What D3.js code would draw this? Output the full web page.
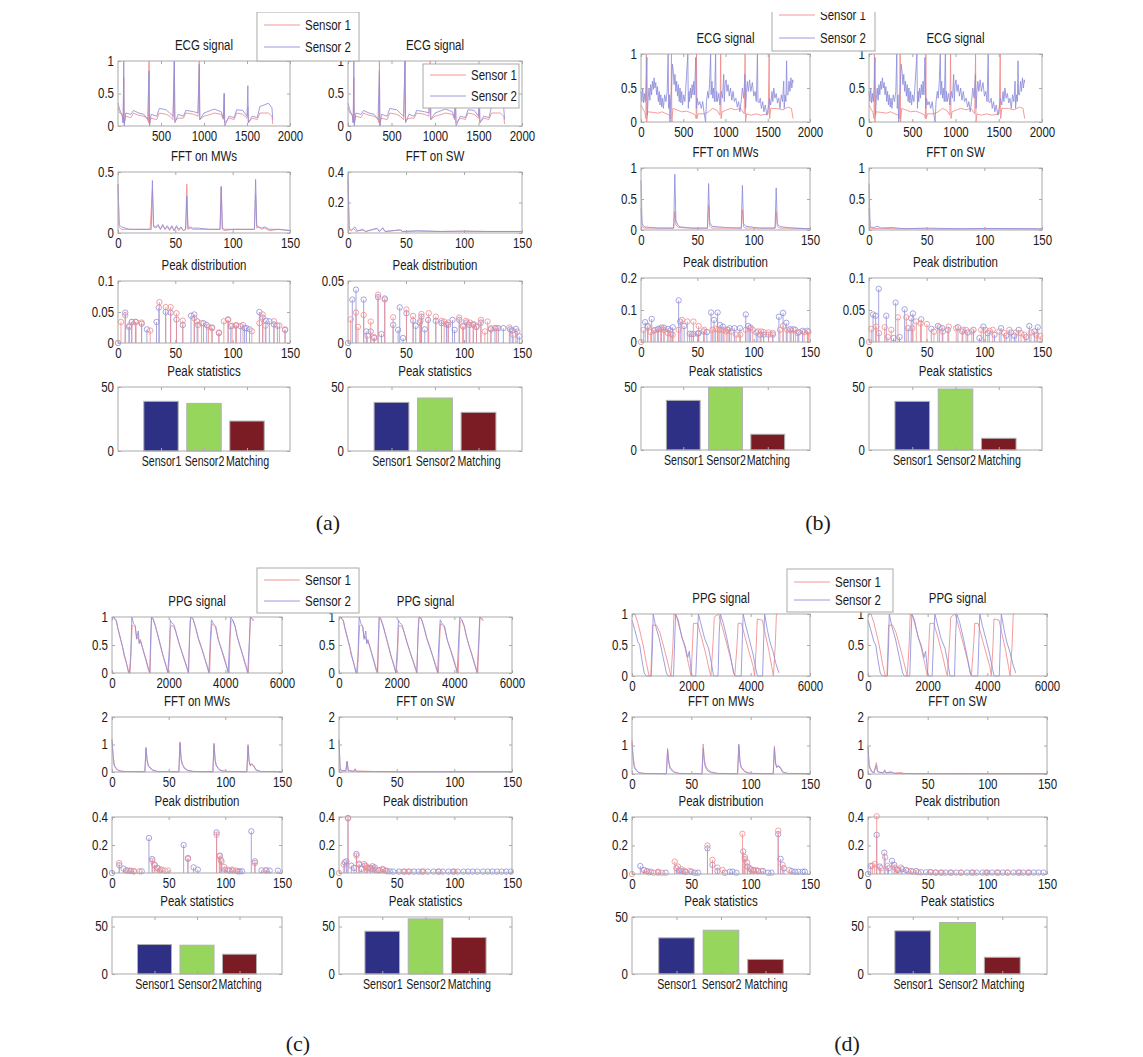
<!DOCTYPE html>
<html>
<head>
<meta charset="utf-8">
<script src="https://cdn.jsdelivr.net/npm/d3@7"></script>
<style>
  body { margin: 0; background: #fff; }
  svg text { font-family: "Liberation Sans", Arial, Helvetica, sans-serif; }
</style>
</head>
<body>
<div id="chart"></div>
<script>
// ---------- data ----------
const barCats = ["Sensor1", "Sensor2", "Matching"];

// ECG signals (same signal shown in both columns of a panel)
const ecgA_s1 = [[0,0.28],[20,0.2],[50,0.18],[60,0.05],[67,0.75],[72,0.05],[90,0.15],[150,0.13],[180,0.2],[230,0.17],[300,0.15],[340,0.12],[355,0.05],[361,1.0],[366,0.0],[380,0.12],[450,0.1],[480,0.2],[560,0.18],[600,0.15],[640,0.1],[655,1.0],[660,0.08],[700,0.12],[760,0.12],[790,0.2],[880,0.18],[930,0.15],[945,1.0],[950,0.1],[1000,0.15],[1080,0.18],[1120,0.2],[1200,0.18],[1225,0.1],[1235,0.5],[1240,0.05],[1290,0.12],[1350,0.1],[1380,0.2],[1450,0.18],[1500,0.12],[1510,0.3],[1515,0.05],[1560,0.12],[1620,0.1],[1650,0.2],[1750,0.2],[1790,0.15],[1800,0.03]];
const ecgA_s2 = [[0,0.35],[20,0.25],[50,0.15],[60,0.05],[67,1.0],[72,0.0],[90,0.2],[150,0.18],[180,0.24],[240,0.2],[300,0.18],[345,0.1],[361,0.85],[366,0.0],[385,0.18],[450,0.15],[480,0.27],[560,0.25],[600,0.2],[640,0.15],[655,1.0],[662,0.05],[700,0.18],[760,0.15],[790,0.24],[880,0.22],[930,0.2],[945,0.95],[952,0.1],[1000,0.2],[1080,0.24],[1120,0.26],[1200,0.22],[1225,0.12],[1235,0.5],[1242,0.0],[1290,0.15],[1350,0.13],[1380,0.25],[1450,0.24],[1500,0.15],[1510,0.62],[1516,0.05],[1560,0.15],[1620,0.13],[1650,0.3],[1750,0.35],[1790,0.28],[1800,0.1]];
const ecgB_s1 = [[0,0.25],[20,0.2],[45,0.14],[58,0.05],[63,1.0],[68,0.0],[80,0.15],[150,0.14],[200,0.13],[250,0.15],[300,0.12],[340,0.1],[355,0.05],[360,1.0],[365,0.0],[378,0.2],[420,0.18],[480,0.15],[540,0.16],[600,0.13],[645,0.1],[652,0.05],[657,1.0],[662,0.05],[675,0.12],[750,0.12],[800,0.15],[850,0.2],[900,0.17],[935,0.1],[943,1.0],[948,0.05],[960,0.15],[1000,0.17],[1060,0.2],[1120,0.18],[1180,0.2],[1222,0.12],[1232,1.0],[1237,0.0],[1250,0.12],[1300,0.1],[1360,0.12],[1420,0.1],[1505,0.12],[1517,1.0],[1522,0.05],[1535,0.2],[1600,0.2],[1680,0.18],[1740,0.22],[1780,0.2],[1800,0.05]];
const ecgB_s2 = [[0,0.45],[10,0.3],[20,0.5],[30,0.28],[40,0.42],[50,0.3],[60,0.5],[70,0.95],[75,0.1],[85,0.35],[95,0.5],[105,0.32],[115,0.55],[125,0.4],[135,0.6],[145,0.48],[155,0.65],[165,0.5],[175,0.58],[185,0.4],[195,0.52],[205,0.3],[215,0.45],[225,0.25],[235,0.4],[245,0.22],[255,0.35],[265,0.2],[280,0.4],[295,0.3],[310,0.45],[321,1.0],[327,0.2],[335,0.4],[343,0.0],[350,0.3],[362,0.5],[372,0.85],[382,0.75],[392,0.55],[402,0.7],[412,0.45],[422,0.6],[432,0.38],[442,0.55],[452,0.3],[462,0.5],[472,0.28],[482,0.45],[492,0.25],[505,0.4],[519,0.3],[530,0.5],[554,1.0],[560,0.2],[568,0.45],[575,0.3],[585,0.5],[595,0.35],[605,0.55],[615,0.4],[625,0.6],[635,0.4],[647,0.95],[655,0.2],[665,0.35],[680,0.25],[695,0.3],[714,0.2],[730,0.3],[745,0.15],[764,0.0],[775,0.3],[790,0.45],[800,0.35],[811,0.55],[824,1.0],[830,0.4],[840,0.6],[850,0.35],[858,0.5],[870,0.3],[883,1.0],[889,0.3],[896,0.45],[905,0.3],[920,0.42],[935,0.25],[950,0.45],[965,0.35],[979,0.7],[986,0.3],[995,0.55],[1006,0.62],[1018,0.45],[1030,0.55],[1045,0.38],[1060,0.5],[1075,0.32],[1090,0.45],[1105,0.3],[1123,0.35],[1140,0.22],[1155,0.3],[1170,0.15],[1185,0.3],[1200,0.5],[1215,0.35],[1230,0.7],[1238,0.2],[1248,0.45],[1259,0.6],[1270,0.45],[1285,0.62],[1300,0.45],[1318,0.58],[1335,0.38],[1350,0.45],[1365,0.3],[1378,1.0],[1384,0.3],[1396,0.28],[1412,0.35],[1425,0.2],[1440,0.3],[1454,0.15],[1470,0.25],[1490,0.1],[1505,0.2],[1520,0.35],[1535,0.25],[1550,0.45],[1560,0.3],[1571,0.5],[1585,0.35],[1600,0.42],[1615,0.28],[1630,0.35],[1645,0.2],[1660,0.4],[1675,0.3],[1689,0.6],[1695,0.2],[1705,0.4],[1715,0.3],[1723,0.9],[1729,0.4],[1740,0.4],[1752,0.6],[1763,0.45],[1774,0.65],[1785,0.5],[1795,0.62],[1800,0.58]];

// PPG signals
const ppgC_s1 = [[0,1],[60,0.98],[150,0.95],[200,0.8],[300,0.6],[380,0.45],[430,0.3],[500,0.2],[560,0.08],[594,0],[640,0],[690,0.6],[713,0.85],[760,0.85],[820,0.82],[870,0.6],[920,0.65],[960,0.55],[1000,0.6],[1050,0.5],[1120,0.38],[1200,0.25],[1280,0.1],[1343,0],[1370,0.5],[1395,1],[1450,0.97],[1530,0.85],[1600,0.7],[1700,0.5],[1800,0.3],[1900,0.15],[1985,0],[2030,0.3],[2060,0.8],[2090,0.85],[2180,0.83],[2250,0.75],[2350,0.55],[2450,0.4],[2550,0.25],[2650,0.1],[2698,0],[2730,0.5],[2760,0.95],[2800,1],[2870,0.95],[2950,0.8],[3050,0.6],[3150,0.45],[3250,0.3],[3350,0.15],[3446,0],[3480,0.5],[3520,0.88],[3570,0.86],[3650,0.82],[3750,0.6],[3850,0.45],[3950,0.3],[4050,0.12],[4135,0],[4170,0.6],[4200,0.92],[4260,0.95],[4340,0.85],[4400,0.7],[4500,0.5],[4600,0.35],[4700,0.18],[4780,0.05],[4812,0],[4850,0.5],[4890,1],[4960,0.97],[5000,0.95]];
const ppgC_s2 = [[0,0.98],[50,1],[150,0.93],[200,0.82],[300,0.62],[380,0.45],[450,0.3],[520,0.15],[580,0.02],[610,0],[660,0.3],[700,1],[760,0.88],[820,0.85],[870,0.62],[930,0.75],[960,0.52],[1000,0.58],[1060,0.48],[1130,0.35],[1210,0.2],[1290,0.05],[1330,0],[1370,0.7],[1395,1],[1460,0.95],[1540,0.82],[1620,0.68],[1720,0.48],[1820,0.28],[1920,0.1],[1970,0],[2030,0.5],[2060,0.95],[2100,0.9],[2190,0.86],[2260,0.72],[2360,0.55],[2460,0.38],[2560,0.22],[2660,0.06],[2700,0],[2740,0.7],[2780,1],[2850,0.98],[2950,0.82],[3050,0.62],[3150,0.47],[3250,0.3],[3350,0.12],[3420,0],[3470,0.6],[3510,0.95],[3580,0.88],[3660,0.84],[3760,0.58],[3860,0.42],[3960,0.25],[4060,0.08],[4100,0],[4160,0.7],[4190,1],[4270,0.93],[4350,0.82],[4420,0.65],[4520,0.48],[4620,0.3],[4720,0.12],[4790,0],[4850,0.6],[4880,1],[4950,0.96],[5000,0.93]];
const ppgD_s1 = [[0,1],[100,1],[204,0.85],[374,0.5],[487,0.2],[577,0],[634,0],[670,0.5],[690,0.82],[826,0.82],[940,0.7],[1053,0.5],[1189,0.25],[1313,0],[1380,0.5],[1415,1],[1506,0.95],[1675,0.65],[1789,0.45],[1902,0.2],[1992,0],[2040,0.5],[2072,0.85],[2207,0.85],[2355,0.6],[2490,0.35],[2604,0.1],[2660,0],[2740,0.6],[2773,0.95],[2920,1],[3068,0.75],[3204,0.5],[3340,0.25],[3464,0],[3540,0.5],[3577,0.85],[3690,0.85],[3826,0.6],[3939,0.4],[4087,0.15],[4132,0],[4190,0.5],[4222,0.92],[4392,0.9],[4505,0.65],[4619,0.4],[4709,0.15],[4766,0],[4830,0.5],[4868,1],[4902,1]];
const ppgD_s2 = [[0,0.9],[90,0.75],[200,0.55],[260,0.5],[320,0.3],[410,0.05],[480,0],[650,0],[690,0.5],[713,1],[800,0.8],[920,0.6],[1050,0.3],[1160,0.05],[1220,0],[1400,0],[1440,0.6],[1472,1],[1560,0.9],[1680,0.62],[1780,0.5],[1880,0.3],[1930,0.4],[1970,0.2],[2010,0],[2150,0],[2200,0.6],[2240,1],[2320,0.85],[2450,0.6],[2580,0.45],[2680,0.2],[2750,0],[2900,0],[2940,0.7],[2977,1],[3080,0.85],[3200,0.6],[3330,0.3],[3420,0.05],[3480,0],[3680,0],[3720,0.6],[3747,1],[3830,0.82],[3950,0.6],[4080,0.35],[4180,0.1],[4230,0],[4400,0],[4440,0.6],[4470,1],[4560,0.75],[4650,0.55],[4750,0.4],[4850,0.2],[4950,0.05]];

// FFT spectra
const fftMwA_s1 = [[0,0.4],[1,0.05],[3,0.03],[10,0.03],[20,0.03],[28,0.03],[30,0.35],[31,0.05],[33,0.04],[35,0.06],[37,0.03],[39,0.06],[41,0.03],[43,0.05],[45,0.02],[47,0.05],[49,0.02],[51,0.05],[53,0.02],[55,0.04],[57,0.02],[59,0.03],[60,0.4],[61,0.03],[63,0.04],[65,0.03],[70,0.03],[80,0.03],[89,0.03],[90,0.38],[91,0.03],[93,0.02],[100,0.03],[110,0.03],[119,0.03],[120,0.32],[121,0.04],[123,0.05],[125,0.03],[128,0.04],[132,0.02],[140,0.03],[150,0.02]];
const fftMwA_s2 = [[0,0.4],[1,0.07],[3,0.05],[10,0.03],[20,0.03],[29,0.03],[30,0.43],[31,0.06],[33,0.05],[35,0.07],[37,0.03],[39,0.07],[41,0.03],[43,0.06],[45,0.03],[47,0.06],[49,0.02],[51,0.06],[53,0.03],[55,0.05],[57,0.02],[59,0.03],[60,0.3],[61,0.04],[63,0.05],[65,0.04],[70,0.04],[80,0.03],[89,0.03],[90,0.38],[91,0.04],[93,0.03],[100,0.03],[110,0.03],[119,0.03],[120,0.44],[121,0.06],[123,0.05],[125,0.04],[128,0.05],[132,0.03],[140,0.03],[150,0.02]];
const fftSwA_s1 = [[0,0.35],[1,0.02],[3,0.015],[5,0.03],[7,0.01],[13,0.025],[15,0.01],[25,0.03],[27,0.01],[30,0.035],[32,0.01],[45,0.02],[47,0.01],[60,0.012],[80,0.01],[100,0.012],[120,0.01],[150,0.01]];
const fftSwA_s2 = [[0,0.38],[1,0.03],[3,0.02],[6,0.04],[8,0.015],[13,0.02],[15,0.01],[25,0.03],[27,0.01],[30,0.03],[32,0.01],[45,0.02],[47,0.01],[60,0.015],[80,0.01],[100,0.012],[120,0.01],[150,0.01]];
const fftMwB_s1 = [[0,0.35],[1,0.05],[3,0.03],[15,0.03],[29,0.03],[30,0.3],[31,0.08],[33,0.04],[45,0.03],[59,0.03],[60,0.4],[61,0.06],[63,0.03],[75,0.03],[89,0.03],[90,0.33],[91,0.05],[93,0.03],[105,0.03],[119,0.03],[120,0.3],[121,0.06],[123,0.03],[135,0.03],[150,0.02]];
const fftMwB_s2 = [[0,0.8],[1,0.1],[3,0.05],[15,0.03],[29,0.03],[30,0.9],[31,0.15],[33,0.07],[35,0.05],[45,0.03],[59,0.03],[60,0.75],[61,0.12],[63,0.06],[75,0.04],[89,0.03],[90,0.72],[91,0.1],[93,0.06],[105,0.03],[119,0.03],[120,0.68],[121,0.1],[123,0.06],[125,0.05],[135,0.03],[150,0.02]];
const fftSwB_s1 = [[0,0.35],[1,0.03],[5,0.02],[10,0.03],[20,0.02],[40,0.02],[70,0.015],[100,0.02],[150,0.015]];
const fftSwB_s2 = [[0,0.75],[1,0.05],[4,0.04],[8,0.06],[10,0.03],[20,0.04],[30,0.02],[50,0.03],[80,0.02],[100,0.025],[150,0.02]];
const fftMwC_s1 = [[0,1.2],[1,0.6],[2,0.25],[4,0.12],[6,0.05],[10,0.02],[29,0.01],[30,0.85],[31,0.45],[32,0.25],[34,0.15],[36,0.08],[40,0.02],[59,0.01],[60,1.1],[61,0.5],[62,0.3],[64,0.15],[67,0.06],[72,0.02],[89,0.01],[90,1.05],[91,0.45],[92,0.25],[95,0.08],[98,0.04],[102,0.02],[119,0.01],[120,1.0],[121,0.4],[122,0.25],[123,0.3],[125,0.25],[127,0.08],[131,0.02],[150,0.01]];
const fftMwC_s2 = [[0,1.15],[1,0.55],[2,0.22],[4,0.1],[6,0.04],[10,0.02],[29,0.01],[30,0.9],[31,0.4],[32,0.22],[34,0.12],[36,0.06],[40,0.02],[59,0.01],[60,1.05],[61,0.45],[62,0.28],[64,0.12],[67,0.05],[72,0.02],[89,0.01],[90,1.0],[91,0.42],[92,0.22],[95,0.07],[98,0.03],[102,0.02],[119,0.01],[120,0.95],[121,0.38],[122,0.22],[123,0.28],[125,0.22],[127,0.07],[131,0.02],[150,0.01]];
const fftSwC_s1 = [[0,1.2],[1,0.1],[3,0.05],[6,0.05],[7,0.4],[8,0.06],[13,0.03],[14,0.12],[15,0.03],[20,0.03],[30,0.02],[50,0.01],[150,0.01]];
const fftSwC_s2 = [[0,1.15],[1,0.08],[3,0.04],[6,0.04],[7,0.38],[8,0.05],[13,0.02],[14,0.1],[15,0.02],[20,0.02],[30,0.015],[50,0.01],[150,0.01]];
const fftMwD_s1 = [[0,1.2],[1,0.6],[2,0.28],[4,0.12],[6,0.05],[10,0.02],[29,0.01],[30,0.9],[31,0.45],[32,0.25],[34,0.14],[36,0.07],[40,0.02],[59,0.01],[60,1.05],[61,0.5],[62,0.3],[64,0.15],[67,0.07],[72,0.02],[89,0.01],[90,1.0],[91,0.45],[92,0.25],[95,0.1],[98,0.04],[102,0.02],[119,0.01],[120,0.98],[121,0.4],[122,0.25],[123,0.3],[125,0.25],[127,0.08],[131,0.02],[150,0.01]];
const fftMwD_s2 = [[0,1.1],[1,0.5],[2,0.22],[4,0.1],[6,0.04],[10,0.02],[29,0.01],[30,0.85],[31,0.4],[32,0.2],[34,0.1],[36,0.05],[40,0.02],[59,0.01],[60,0.9],[61,0.4],[62,0.22],[64,0.1],[67,0.05],[72,0.02],[89,0.01],[90,1.05],[91,0.42],[92,0.22],[95,0.08],[98,0.03],[102,0.02],[119,0.01],[120,0.9],[121,0.35],[122,0.22],[123,0.28],[125,0.2],[127,0.06],[131,0.02],[150,0.01]];
const fftSwD_s1 = [[0,1.0],[1,0.3],[3,0.1],[5,0.05],[7,0.4],[8,0.1],[10,0.05],[13,0.05],[14,0.15],[15,0.05],[20,0.08],[21,0.03],[28,0.05],[30,0.02],[50,0.01],[150,0.01]];
const fftSwD_s2 = [[0,0.95],[1,0.25],[3,0.08],[5,0.04],[7,0.3],[8,0.08],[13,0.04],[14,0.12],[15,0.04],[20,0.06],[22,0.02],[30,0.015],[150,0.01]];

// Peak distributions (stem plots)
const pkA_L_s1 = [[2.6,0.034],[6.3,0.045],[10,0.028],[12,0.034],[15.8,0.034],[20.6,0.033],[28.1,0.02],[36.1,0.066],[41.6,0.058],[45.9,0.058],[51,0.048],[56.5,0.036],[66.5,0.04],[69.7,0.029],[72.8,0.032],[78.9,0.026],[82,0.024],[88,0.017],[92.3,0.035],[96,0.037],[99.5,0.028],[103.3,0.029],[109,0.029],[116.7,0.019],[123.3,0.032],[126.2,0.046],[128.5,0.028],[136,0.035],[140.8,0.028],[145.7,0.022]];
const pkA_L_s2 = [[0,0],[6.3,0.049],[9.5,0.026],[12,0.034],[15.2,0.034],[20.6,0.031],[25.2,0.022],[33.6,0.034],[35.6,0.057],[41.6,0.05],[45.9,0.049],[51,0.038],[56.5,0.029],[63.7,0.044],[66.5,0.046],[69,0.035],[74.5,0.032],[77.4,0.029],[82,0.025],[88,0.016],[96,0.038],[98.4,0.027],[102.7,0.028],[107,0.027],[110.4,0.024],[112,0.024],[114.7,0.022],[123.3,0.05],[126.2,0.041],[129,0.036],[132,0.035],[136,0.03],[139,0.028],[145.7,0.021]];
const pkA_R_s1 = [[2.3,0.019],[6.9,0.0245],[8.6,0.013],[13.5,0.0226],[16.7,0.0059],[19.6,0.0173],[22.5,0.0048],[25.9,0.039],[31.7,0.035],[38.9,0.0207],[50.4,0.027],[56.1,0.0218],[62.5,0.018],[63.3,0.0234],[69.6,0.024],[75.7,0.0213],[80.6,0.0178],[82.9,0.0173],[86.4,0.0165],[95.9,0.0205],[98.8,0.0138],[101.7,0.0178],[105.1,0.0165],[108,0.0154],[110.8,0.0138],[114.6,0.0186],[118,0.0093],[120.4,0.0173],[123.2,0.0119],[128.1,0.012],[139.1,0.0125],[142.5,0.0066],[146,0.0093]];
const pkA_R_s2 = [[0,0],[3.7,0.035],[6.9,0.043],[13.5,0.035],[15.8,0.0093],[19.6,0.0093],[22.5,0.004],[25.9,0.037],[28.8,0.0072],[31.7,0.0359],[38.9,0.0146],[43.2,0.0106],[44.6,0.0287],[47.5,0.004],[50.4,0.024],[56.1,0.018],[58.4,0.0138],[61.9,0.0165],[63.3,0.0213],[66.2,0.011],[69,0.0186],[75.7,0.0178],[80.6,0.016],[84.9,0.015],[86.4,0.0146],[90.1,0.0186],[91.9,0.0106],[95.9,0.0186],[99.4,0.0133],[102.3,0.0165],[104.5,0.0146],[108,0.0146],[110.8,0.0128],[114.6,0.0165],[123.2,0.011],[126.7,0.012],[129.6,0.012],[133.9,0.012],[139.7,0.011],[141.6,0.0101],[144.8,0.0114],[147.7,0.0053]];
const pkB_L_s1 = [[0,0],[2.3,0.038],[6,0.046],[8.6,0.031],[12.6,0.038],[14.7,0.038],[17.5,0.04],[20.4,0.038],[23.9,0.028],[26.8,0.025],[28.2,0.023],[33.4,0.038],[36.3,0.069],[41.2,0.064],[44.9,0.025],[46.5,0.064],[51.2,0.05],[56.2,0.038],[63.4,0.038],[66.2,0.041],[68.6,0.038],[71.4,0.038],[73.7,0.038],[75.7,0.033],[80.1,0.033],[84.4,0.023],[88.1,0.023],[93,0.038],[96.4,0.043],[99.2,0.038],[103.7,0.033],[106.6,0.033],[108.8,0.031],[113.2,0.03],[117,0.028],[123.3,0.038],[126.1,0.05],[129.8,0.038],[133.3,0.036],[137,0.038],[139.1,0.028],[144.8,0.031],[148.6,0.031]];
const pkB_L_s2 = [[3.7,0.062],[6,0.05],[9.5,0.072],[11.5,0.036],[15.3,0.041],[18.1,0.045],[20.4,0.045],[23.9,0.041],[25.9,0.036],[28.2,0.046],[33.4,0.13],[34.8,0.064],[38.3,0.05],[43.2,0.026],[46.5,0.025],[50.4,0.026],[51.2,0.028],[55.6,0.033],[58.5,0.031],[62.2,0.092],[64.8,0.069],[68,0.092],[70,0.053],[72.8,0.048],[77.2,0.038],[78.6,0.043],[82.9,0.043],[87.8,0.043],[93,0.086],[95,0.05],[97.3,0.045],[102.3,0.03],[105.8,0.023],[108.8,0.023],[113.2,0.023],[117,0.023],[122.4,0.079],[126.1,0.091],[129,0.06],[132.4,0.04],[135.3,0.04],[140,0.031],[143.4,0.035],[147.7,0.035]];
const pkB_R_s1 = [[0,0],[2,0.0205],[6.3,0.024],[8.7,0.0138],[13.6,0.023],[16.4,0.0077],[19.3,0.019],[25.1,0.0385],[32.3,0.0385],[37.5,0.0215],[41,0.032],[44.7,0.029],[50.2,0.028],[56.3,0.016],[61.1,0.0231],[64.1,0.0164],[69.2,0.024],[75.6,0.0215],[81.4,0.019],[84.2,0.019],[89.1,0.0164],[97.3,0.019],[100.9,0.019],[104.4,0.0174],[107.3,0.019],[113,0.0164],[117.4,0.0138],[121.7,0.019],[127.4,0.0148],[131.8,0.0138],[134.7,0.0113],[140.5,0.0148],[145,0.0113],[148.4,0.0097]];
const pkB_R_s2 = [[3.5,0.043],[5.8,0.041],[8.4,0.083],[15,0.041],[21.3,0.0062],[23.1,0.0615],[26.5,0.0077],[30.9,0.051],[34,0.0215],[36.6,0.037],[38.1,0.0446],[45.3,0.0354],[54,0.0205],[59.7,0.025],[63.5,0.0215],[68.4,0.019],[77.1,0.0231],[80.8,0.0164],[85.6,0.0149],[90.6,0.019],[95.8,0.0062],[99.2,0.024],[103,0.0138],[108.8,0.0113],[114.5,0.0215],[118.9,0.01],[123.2,0.0149],[126,0.0097],[129.8,0.019],[136.2,0.0077],[139,0.025],[143.4,0.0164],[146.3,0.023]];
const pkC_L_s1 = [[6.4,0.071],[12.5,0.019],[16,0.017],[19.5,0.012],[24.2,0.012],[35.5,0.088],[37.9,0.055],[40.8,0.033],[42.2,0.019],[46.6,0.017],[49.5,0.017],[67,0.1],[92.3,0.274],[94.7,0.119],[96,0.095],[99,0.043],[102,0.024],[106,0.024],[109.5,0.017],[126.1,0.071],[135.4,0.019]];
const pkC_L_s2 = [[0,0],[6.4,0.055],[10.2,0.031],[13.6,0.017],[16.6,0.014],[19.2,0.012],[26.2,0.012],[32.6,0.25],[35.5,0.1],[37.3,0.06],[39.9,0.036],[43.7,0.024],[63.2,0.2],[67,0.107],[72,0.04],[75.7,0.024],[92.3,0.29],[95.2,0.124],[96.6,0.083],[99.6,0.024],[103.5,0.017],[106.6,0.017],[111,0.012],[112.6,0.012],[114.7,0.012],[122.9,0.298],[126.1,0.083],[131.9,0.019],[136.3,0.019],[139.1,0.017],[146.4,0.017]];
const pkC_R_s1 = [[0,0],[4.1,0.06],[7.8,0.39],[15.1,0.124],[17.4,0.067],[21.8,0.064],[23.8,0.048],[26.7,0.029],[29.6,0.029],[31.8,0.024],[34,0.019],[37.7,0.029],[41.7,0.012],[57,0.01],[60,0.01],[72,0.01],[87,0.01],[100,0.01]];
const pkC_R_s2 = [[4.9,0.076],[6.4,0.083],[7.8,0.393],[10.7,0.052],[13,0.036],[15.1,0.136],[17.4,0.06],[19.4,0.029],[22.4,0.052],[24.6,0.036],[27.3,0.036],[29,0.048],[31,0.04],[34.9,0.019],[38.3,0.024],[40.6,0.017],[44,0.012],[47,0.01],[52,0.01],[56,0.01],[61,0.01],[65,0.01],[69,0.01],[73,0.01],[77,0.01],[82,0.01],[86,0.01],[90,0.01],[95,0.01],[99,0.01],[103,0.01],[108,0.01],[112,0.01],[116,0.01],[120,0.01],[125,0.01],[129,0.01],[133,0.01],[137,0.01],[141,0.01],[145,0.01],[149,0.01]];
const pkD_L_s1 = [[0,0],[10.1,0.026],[14.2,0.012],[18.3,0.009],[22,0.009],[25.3,0.009],[36,0.087],[38.8,0.052],[41.7,0.033],[44.5,0.021],[48.7,0.021],[63.6,0.2],[67.8,0.099],[72,0.045],[76.3,0.028],[93.1,0.282],[95.1,0.118],[97.1,0.08],[99.3,0.04],[102,0.028],[104.8,0.028],[109,0.021],[123.2,0.304],[126.9,0.064],[132.5,0.028]];
const pkD_L_s2 = [[7,0.056],[10.1,0.028],[12.7,0.021],[15.8,0.016],[22,0.016],[28.4,0.009],[37.4,0.04],[40,0.024],[42.6,0.019],[45.3,0.014],[50.1,0.016],[52.9,0.009],[55.7,0.009],[63.6,0.18],[67.8,0.064],[72,0.021],[78.3,0.009],[82.4,0.016],[84.7,0.016],[88,0.009],[93.7,0.158],[95.1,0.104],[97.4,0.052],[100.1,0.033],[102.8,0.024],[106.2,0.021],[110.4,0.021],[114.7,0.009],[117.5,0.009],[123.2,0.28],[125.2,0.106],[128,0.04],[134.5,0.021],[137.3,0.016],[140.1,0.016],[143.8,0.016],[145.7,0.016]];
const pkD_R_s1 = [[3.7,0.059],[5.6,0.071],[7.3,0.405],[10.7,0.04],[14.4,0.118],[16.4,0.056],[22.6,0.045],[24,0.033],[27.7,0.045],[33.3,0.021],[37.6,0.016],[42,0.012],[52,0.014],[57,0.01],[62,0.01],[70,0.01],[78,0.01],[88,0.01],[99,0.01],[108,0.01],[117,0.01],[127,0.01],[134,0.01]];
const pkD_R_s2 = [[0,0],[2.3,0.056],[7.3,0.275],[9.9,0.052],[13.6,0.15],[17.2,0.04],[20.1,0.092],[22,0.064],[25.1,0.028],[28.5,0.033],[31.9,0.028],[36.2,0.021],[40.4,0.021],[44.5,0.012],[48.7,0.012],[52.8,0.012],[56.5,0.01],[61,0.01],[65,0.01],[69,0.01],[74,0.01],[78,0.01],[83,0.01],[87,0.01],[91,0.01],[96,0.01],[100,0.01],[104,0.01],[109,0.01],[113,0.01],[117,0.01],[122,0.01],[126,0.01],[130,0.01],[135,0.01],[139,0.01],[143,0.01],[147,0.01]];

// Peak statistics (bar heights)
const barsA_L = [38.8, 37.2, 23.4];
const barsA_R = [38.0, 41.4, 30.2];
const barsB_L = [39.4, 49.7, 12.5];
const barsB_R = [38.6, 48.4, 9.3];
const barsC_L = [31.0, 30.3, 20.8];
const barsC_R = [45.0, 58.0, 38.4];
const barsD_L = [31.7, 38.4, 12.8];
const barsD_R = [45.4, 54.2, 17.6];

// ---------- drawing ----------
const W = 1143, H = 1057;
const RED = "#f28a8a", BLUE = "#8e8edb";
const AX = "#a9a9a9";
const FS = 14;          // matlab-ish narrow font, squeezed below
const SQUEEZE = 0.82;
const barColors = ["#2e3085", "#96d65c", "#7b1b23"];

const svg = d3.select("#chart").append("svg").attr("width", W).attr("height", H);
svg.append("rect").attr("width", W).attr("height", H).attr("fill", "#fff");

const layerMarks = svg.append("g");
const layerAxes = svg.append("g");
const layerTop = svg.append("g");

function makeAxes(box, xDom, yDom, xTicks, yTicks, xFmt) {
    const [x0, x1, y0, y1] = box;
    const x = d3.scaleLinear().domain(xDom).range([x0, x1]);
    const y = d3.scaleLinear().domain(yDom).range([y1, y0]);
    const g = layerAxes.append("g");

    g.append("g").attr("transform", `translate(0,${y1})`)
        .call(d3.axisBottom(x).tickValues(xTicks).tickSizeInner(-3).tickSizeOuter(0)
            .tickPadding(5).tickFormat(xFmt || (d => d)));
    g.append("g").attr("transform", `translate(0,${y0})`)
        .call(d3.axisTop(x).tickValues(xTicks).tickSizeInner(-3).tickSizeOuter(0).tickFormat(""));
    g.append("g").attr("transform", `translate(${x0},0)`)
        .call(d3.axisLeft(y).tickValues(yTicks).tickSizeInner(-3).tickSizeOuter(0)
            .tickPadding(4).tickFormat(d => d));
    g.append("g").attr("transform", `translate(${x1},0)`)
        .call(d3.axisRight(y).tickValues(yTicks).tickSizeInner(-3).tickSizeOuter(0).tickFormat(""));

    g.selectAll(".domain").remove();
    g.selectAll(".tick line").attr("stroke", AX);
    g.selectAll("g").attr("font-size", FS).attr("font-family", null);
    g.selectAll(".tick text").attr("fill", "#1a1a1a").classed("sq", true);

    g.append("rect")
        .attr("x", x0).attr("y", y0)
        .attr("width", x1 - x0).attr("height", y1 - y0)
        .attr("fill", "none").attr("stroke", AX).attr("stroke-width", 1);
    return { x, y, g };
}

function drawLine(ax, pts, color) {
    const line = d3.line().x(d => ax.x(d[0])).y(d => ax.y(d[1]));
    layerMarks.append("path").datum(pts)
        .attr("d", line).attr("fill", "none")
        .attr("stroke", color).attr("stroke-width", 0.85);
}

function drawStems(ax, pts, color) {
    const g = layerMarks.append("g");
    g.selectAll("line").data(pts).enter().append("line")
        .attr("x1", d => ax.x(d[0])).attr("x2", d => ax.x(d[0]))
        .attr("y1", ax.y(0)).attr("y2", d => ax.y(d[1]))
        .attr("stroke", color).attr("stroke-width", 0.8);
    g.selectAll("circle").data(pts).enter().append("circle")
        .attr("cx", d => ax.x(d[0])).attr("cy", d => ax.y(d[1]))
        .attr("r", 2.7).attr("fill", "none")
        .attr("stroke", color).attr("stroke-width", 0.8);
}

function drawBars(box, vals, yMax) {
    const ax = makeAxes(box, [0, 4], [0, yMax], [1, 2, 3], [0, 50], d => barCats[d - 1]);
    // category labels sit tightly side by side, a touch narrower
    ax.g.selectAll(".tick text").filter(d => typeof d === "number" && barCats[d - 1] && ax.x(d) !== undefined)
        .classed("barlab", function () { return this.textContent && isNaN(+this.textContent); });
    layerMarks.append("g").selectAll("rect").data(vals).enter().append("rect")
        .attr("x", (d, i) => ax.x(i + 1 - 0.4))
        .attr("width", ax.x(0.8) - ax.x(0))
        .attr("y", d => ax.y(d))
        .attr("height", d => ax.y(0) - ax.y(d))
        .attr("fill", (d, i) => barColors[i])
        .attr("stroke", "#b0b0b0").attr("stroke-width", 1);
}

function title(box, text) {
    layerAxes.append("text").classed("sq", true)
        .attr("x", (box[0] + box[1]) / 2).attr("y", box[2] - 16)
        .attr("dy", "0.35em").attr("text-anchor", "middle")
        .attr("font-size", FS).attr("fill", "#1a1a1a")
        .text(text);
}

function legend(x0, y0, x1, y1, rows) {
    const g = layerTop.append("g");
    g.append("rect").attr("x", x0).attr("y", y0)
        .attr("width", x1 - x0).attr("height", y1 - y0)
        .attr("fill", "#fff").attr("stroke", AX);
    rows.forEach(r => {
        g.append("line").attr("x1", x0 + 7).attr("x2", x0 + 43)
            .attr("y1", r.y).attr("y2", r.y)
            .attr("stroke", r.color).attr("stroke-width", 0.9);
        g.append("text").classed("sq", true)
            .attr("x", x0 + 48).attr("y", r.y).attr("dy", "0.35em")
            .attr("font-size", FS).attr("fill", "#1a1a1a").text(r.label);
    });
}

function panelLabel(x, y, text) {
    layerTop.append("text").attr("x", x).attr("y", y)
        .attr("text-anchor", "middle")
        .style("font-family", "'Liberation Serif', 'DejaVu Serif', serif")
        .attr("font-size", 22).attr("fill", "#1a1a1a").text(text);
}

// one panel = two columns x four rows
function panel(cfg) {
    const { cols, rows } = cfg;
    cols.forEach((c, ci) => {
        const bx = r => [c[0], c[1], rows[r][0], rows[r][1]];
        const side = ci === 0 ? "L" : "R";

        // row 1: raw signal
        const a1 = makeAxes(bx(0), cfg.sigX, [0, 1], ci === 0 ? cfg.sigTicksL : cfg.sigTicks, [0, 0.5, 1]);
        drawLine(a1, cfg.sig[0], RED);
        drawLine(a1, cfg.sig[1], BLUE);
        title(bx(0), cfg.sigTitle);

        // row 2: FFT
        const f = cfg.fft[side];
        const a2 = makeAxes(bx(1), [0, 150], [0, f.max], [0, 50, 100, 150], f.ticks);
        drawLine(a2, f.s1, RED);
        drawLine(a2, f.s2, BLUE);
        title(bx(1), ci === 0 ? "FFT on MWs" : "FFT on SW");

        // row 3: peak distribution
        const p = cfg.peak[side];
        const a3 = makeAxes(bx(2), [0, 150], [0, p.max], [0, 50, 100, 150], p.ticks);
        drawStems(a3, p.s2, BLUE);
        drawStems(a3, p.s1, RED);
        title(bx(2), "Peak distribution");

        // row 4: peak statistics
        const b = cfg.bars[side];
        drawBars(bx(3), b.vals, b.max);
        title(bx(3), "Peak statistics");
    });
}

panel({
    cols: [[118, 290], [348, 522]],
    rows: [[61, 126], [172, 233], [281, 343], [387, 451]],
    sigTitle: "ECG signal", sigX: [0, 2000],
    sigTicksL: [500, 1000, 1500, 2000], sigTicks: [0, 500, 1000, 1500, 2000],
    sig: [ecgA_s1, ecgA_s2],
    fft: { L: { s1: fftMwA_s1, s2: fftMwA_s2, max: 0.5, ticks: [0, 0.5] },
           R: { s1: fftSwA_s1, s2: fftSwA_s2, max: 0.4, ticks: [0, 0.2, 0.4] } },
    peak: { L: { s1: pkA_L_s1, s2: pkA_L_s2, max: 0.1, ticks: [0, 0.05, 0.1] },
            R: { s1: pkA_R_s1, s2: pkA_R_s2, max: 0.05, ticks: [0, 0.05] } },
    bars: { L: { vals: barsA_L, max: 50 }, R: { vals: barsA_R, max: 50 } }
});

panel({
    cols: [[641, 810], [869, 1042]],
    rows: [[54, 122], [168, 230], [278, 342], [387, 450]],
    sigTitle: "ECG signal", sigX: [0, 2000],
    sigTicksL: [0, 500, 1000, 1500, 2000], sigTicks: [0, 500, 1000, 1500, 2000],
    sig: [ecgB_s1, ecgB_s2],
    fft: { L: { s1: fftMwB_s1, s2: fftMwB_s2, max: 1, ticks: [0, 0.5, 1] },
           R: { s1: fftSwB_s1, s2: fftSwB_s2, max: 1, ticks: [0, 0.5, 1] } },
    peak: { L: { s1: pkB_L_s1, s2: pkB_L_s2, max: 0.2, ticks: [0, 0.1, 0.2] },
            R: { s1: pkB_R_s1, s2: pkB_R_s2, max: 0.1, ticks: [0, 0.05, 0.1] } },
    bars: { L: { vals: barsB_L, max: 50 }, R: { vals: barsB_R, max: 50 } }
});

panel({
    cols: [[112, 282], [339, 512]],
    rows: [[617, 673], [717, 772], [817, 873], [917, 974]],
    sigTitle: "PPG signal", sigX: [0, 6000],
    sigTicksL: [0, 2000, 4000, 6000], sigTicks: [0, 2000, 4000, 6000],
    sig: [ppgC_s1, ppgC_s2],
    fft: { L: { s1: fftMwC_s1, s2: fftMwC_s2, max: 2, ticks: [0, 1, 2] },
           R: { s1: fftSwC_s1, s2: fftSwC_s2, max: 2, ticks: [0, 1, 2] } },
    peak: { L: { s1: pkC_L_s1, s2: pkC_L_s2, max: 0.4, ticks: [0, 0.2, 0.4] },
            R: { s1: pkC_R_s1, s2: pkC_R_s2, max: 0.4, ticks: [0, 0.2, 0.4] } },
    bars: { L: { vals: barsC_L, max: 60 }, R: { vals: barsC_R, max: 60 } }
});

panel({
    cols: [[632, 810], [868, 1047]],
    rows: [[614, 676], [717, 774], [817, 874], [917, 974]],
    sigTitle: "PPG signal", sigX: [0, 6000],
    sigTicksL: [0, 2000, 4000, 6000], sigTicks: [0, 2000, 4000, 6000],
    sig: [ppgD_s1, ppgD_s2],
    fft: { L: { s1: fftMwD_s1, s2: fftMwD_s2, max: 2, ticks: [0, 1, 2] },
           R: { s1: fftSwD_s1, s2: fftSwD_s2, max: 2, ticks: [0, 1, 2] } },
    peak: { L: { s1: pkD_L_s1, s2: pkD_L_s2, max: 0.4, ticks: [0, 0.2, 0.4] },
            R: { s1: pkD_R_s1, s2: pkD_R_s2, max: 0.4, ticks: [0, 0.2, 0.4] } },
    bars: { L: { vals: barsD_L, max: 50 }, R: { vals: barsD_R, max: 60 } }
});

// legends
const legRows = (ya, yb) => [
    { label: "Sensor 1", color: RED, y: ya },
    { label: "Sensor 2", color: BLUE, y: yb }
];
legend(257, 12, 359, 61, legRows(25, 47));
legend(423, 64, 519, 108, legRows(75, 96));
legend(772, -4, 875, 51, legRows(15, 38));
legend(257, 568, 359, 613, legRows(580, 601));
legend(787, 569, 893, 612, legRows(582, 600));

// top strip of the original figure is cropped
layerTop.append("rect").attr("x", 0).attr("y", 0).attr("width", W).attr("height", 12).attr("fill", "#fff");

panelLabel(328, 530, "(a)");
panelLabel(818, 530, "(b)");
panelLabel(298, 1051, "(c)");
panelLabel(847, 1051, "(d)");

// narrow the sans text (the figure uses a condensed face)
svg.selectAll("text.sq").each(function () {
    const w = this.getComputedTextLength();
    if (w > 0) {
        const k = this.classList.contains("barlab") ? 0.76 : SQUEEZE;
        this.setAttribute("textLength", (w * k).toFixed(1));
        this.setAttribute("lengthAdjust", "spacingAndGlyphs");
    }
});
</script>
</body>
</html>
